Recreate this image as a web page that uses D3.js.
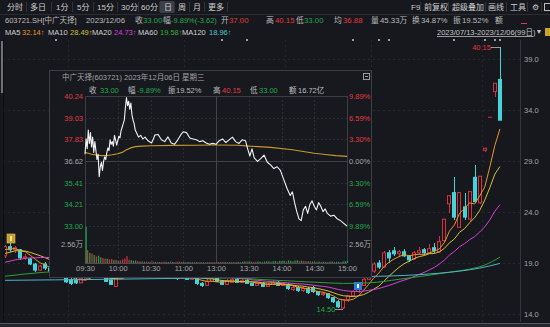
<!DOCTYPE html>
<html><head><meta charset="utf-8">
<script src="https://cdn.jsdelivr.net/npm/d3@7"></script>
<style>
html,body{margin:0;padding:0;background:#16181d;overflow:hidden;}
svg{display:block;}
</style></head><body>
<svg id="c" width="550" height="327"></svg>
<script>
// ---------------- DATA ----------------
// Daily candles 2023/07/13 - 2023/12/06 (99 trading days)
const opens  = [19.7,20.6,20.3,20.3,19.5,19.4,18.9,18.3,18.9,18.5,18.2,17.9,17.5,17.35,17.3,17.05,17.5,17.9,18.3,18.0,
                17.5,17.3,16.7,17.5,18.0,18.4,18.1,18.6,18.2,17.9,18.3,17.9,17.7,18.0,17.7,17.5,17.7,17.4,17.5,17.0,
                16.8,17.2,17.5,17.2,16.9,17.1,17.4,17.1,17.3,17.0,16.8,17.0,16.7,16.9,17.1,16.8,16.9,16.4,16.6,16.3,
                16.5,16.6,16.2,15.9,16.0,15.6,15.2,14.6,15.4,15.8,16.2,16.8,17.4,18.2,19.0,18.6,20.0,20.2,19.9,20.1,
                19.7,19.4,20.0,20.3,20.0,20.5,20.1,21.2,24.8,25.9,22.5,24.5,23.3,27.4,24.9,30.05,33.29,35.8,37.0];
const highs  = [20.8,21.0,20.7,20.4,19.9,19.5,19.0,18.8,19.1,18.9,18.6,18.4,17.9,17.6,17.5,17.7,18.2,18.6,18.5,18.1,
                17.7,17.4,17.6,18.3,18.8,18.6,19.0,18.8,18.3,18.5,18.4,18.0,18.2,18.1,17.8,17.9,17.8,17.8,17.6,17.1,
                17.4,17.7,17.6,17.3,17.4,17.6,17.5,17.5,17.4,17.1,17.1,17.1,17.0,17.3,17.2,17.0,17.0,16.8,16.7,16.6,
                16.6,16.7,16.3,16.2,16.1,15.7,15.4,15.5,15.9,16.4,16.9,17.6,18.5,19.1,19.3,20.2,20.3,20.6,20.3,20.4,
                19.8,20.2,20.6,20.5,20.9,21.0,21.6,23.3,25.7,27.4,26.0,25.9,26.1,28.6,27.51,30.26,33.29,36.62,40.15];
const lows   = [19.5,20.1,20.0,19.3,19.3,18.8,18.1,18.2,18.3,18.0,17.7,17.6,17.0,16.85,16.95,17.0,17.4,17.8,17.8,17.6,
                17.1,16.8,16.6,17.5,17.9,17.9,18.0,18.0,17.7,17.8,17.7,17.55,17.6,17.6,17.3,17.4,17.3,17.3,16.8,16.6,
                16.7,17.1,17.1,16.8,16.8,17.0,17.0,17.0,16.9,16.7,16.7,16.6,16.6,16.8,16.7,16.7,16.4,16.3,16.2,16.2,
                16.0,16.1,15.8,15.8,15.5,15.1,14.6,14.5,15.2,15.7,16.1,16.7,17.3,18.0,18.4,18.5,19.0,19.7,19.6,19.6,
                19.1,19.3,19.9,19.8,19.9,20.0,20.0,21.0,23.9,23.2,22.4,23.2,23.1,24.9,24.8,29.9,33.29,35.3,33.0];
const closes = [20.6,20.3,20.5,19.5,19.6,18.9,18.3,18.7,18.5,18.2,17.9,18.1,17.15,17.0,17.05,17.5,17.9,18.3,18.0,17.7,
                17.2,16.9,17.5,18.0,18.4,18.1,18.6,18.2,17.9,18.3,17.9,17.7,18.0,17.7,17.5,17.7,17.4,17.6,17.0,16.8,
                17.2,17.5,17.2,16.9,17.2,17.4,17.1,17.3,17.0,16.8,17.0,16.7,16.9,17.1,16.8,16.9,16.5,16.6,16.3,16.5,
                16.1,16.2,15.9,16.0,15.6,15.2,14.7,15.4,15.8,16.2,16.8,17.4,18.3,18.9,18.6,20.0,19.5,19.9,20.1,19.7,
                19.3,20.0,20.2,20.0,20.4,20.2,21.1,23.3,25.6,23.5,25.9,23.5,26.0,25.01,27.51,30.26,33.29,36.62,33.0];
// closes of the 19 sessions before the window (for the short moving averages)
const priorCloses = [18.1,18.0,18.2,18.0,17.9,18.1,18.3,18.2,18.5,18.8,19.2,19.0,19.5,19.9,20.2,20.0,20.3,20.6,20.1];
// long moving averages (day index -> value)
const ma60Idx  = [0,8,20,30,40,50,56,62,67,72,78,84,88,92,95,98];
const ma60Val  = [17.7,18.1,18.3,18.2,17.8,17.4,17.25,17.1,17.0,17.05,17.4,17.8,18.1,18.4,18.8,19.58];
const ma120Idx = [0,10,20,35,55,68,80,86,90,94,98];
const ma120Val = [17.3,17.35,17.4,17.5,17.6,17.65,17.8,18.0,18.2,18.5,18.96];
const priceTicks = [14,19,24,29,34,39];
const monthStarts = [13,36,56,73,95];
const eventMarks = [10,43,48,69,74,76,89,95,97,98];

const tabLabels = ['分时','多日','1分','5分','15分','30分','60分','日','周','月','更多'];
const toolLabels = ['F9','前复权','超级叠加','画线','工具'];
const headLabels = ['收','幅','开','高','低','均','量','换','振','额'];
const headValues = ['33.00','-9.89%(-3.62)','37.00','40.15','33.00','36.88','45.33万','34.87%','19.52%',''];
const maNames = ['MA5','MA10','MA20','MA60','MA120'];
const maLast  = ['32.14','28.49','24.73','19.58','18.96'];

// Intraday 2023/12/06 (minutes after 09:30, trading minutes)
const tickMin   = [0,1,2,3,4,5,6,7,8,9,10,11,12,13,14,15,16,17,18,19,20,21,22,23,24,25,26,27,28,29,30,31,32,33,34,35,36,37,38,39,40,41,42,43,44,45,46,48,49,51,53,55,58,61,63,64,67,70,73,76,79,82,85,88,90,93,96,99,102,105,108,111,114,117,120,123,126,129,132,135,138,141,144,147,149,151,153,155,158,161,164,167,170,173,176,179,182,185,188,190,192,194,196,198,200,202,204,206,208,210,212,214,216,218,220,222,225,228,231,234,237,240];
const tickPrice = [37.00,37.85,37.30,38.35,37.60,38.20,37.40,37.95,37.10,37.70,37.20,36.70,37.00,35.75,36.30,36.55,36.10,36.60,36.85,36.70,37.10,37.35,37.20,37.80,37.55,37.70,37.45,38.05,37.80,37.50,37.75,38.00,37.90,38.30,38.50,38.70,38.90,39.60,40.15,39.70,39.95,39.50,39.85,39.20,38.90,38.70,38.35,38.10,37.95,38.05,37.85,37.95,37.73,37.62,37.90,38.07,38.10,37.80,37.70,37.96,37.62,37.55,37.80,38.10,38.25,38.20,37.90,37.85,37.80,37.70,37.75,37.62,37.55,37.60,37.55,37.75,37.85,37.65,37.80,37.95,37.70,37.60,37.80,37.75,37.30,36.90,37.30,36.80,36.60,36.75,36.95,36.55,36.40,36.20,36.30,36.10,35.60,35.10,34.70,34.90,34.30,33.80,33.40,33.30,33.90,34.10,33.70,34.20,34.40,34.10,33.90,34.30,34.10,33.80,33.95,33.70,33.55,33.60,33.40,33.30,33.15,33.00];
const avgMin   = [0,3,6,10,15,20,25,30,34,38,42,46,52,60,80,100,120,140,150,170,190,200,210,220,230,240];
const avgPrice = [37.10,37.05,37.00,36.95,36.92,36.93,36.97,37.02,37.10,37.25,37.35,37.42,37.45,37.47,37.49,37.50,37.51,37.50,37.45,37.38,37.25,37.15,37.05,36.98,36.92,36.88];
// volume per 2 minutes, in 万 shares (+ up / - down)
const vol2Min = [
 -5.0,1.8,-1.4,1.3,-1.1,0.9,-1.0,-0.8,0.7,0.6,
 -0.6,0.5,0.55,-0.4,0.45,-0.3,0.35,0.5,0.6,0.95,
 0.45,-0.4,-0.3,-0.35,0.25,-0.2,0.22,-0.18,0.2,-0.15,
 0.18,0.2,-0.15,0.16,-0.14,0.15,0.18,-0.16,-0.14,0.2,
 -0.15,0.14,0.18,0.2,-0.13,-0.15,0.12,-0.14,0.13,-0.12,
 0.12,-0.13,0.11,-0.12,0.12,0.1,-0.12,0.13,-0.1,0.12,
 0.2,0.15,-0.14,0.16,-0.15,0.12,-0.14,0.13,-0.12,0.14,
 -0.15,0.13,-0.18,-0.22,0.2,-0.2,-0.18,0.16,0.18,-0.2,
 -0.18,0.15,-0.2,-0.24,-0.22,0.18,-0.25,-0.28,0.2,-0.3,
 -0.28,-0.32,0.22,-0.36,-0.3,0.25,-0.34,-0.38,0.28,-0.32,
 0.3,0.24,-0.24,0.22,-0.2,-0.2,0.18,-0.2,0.16,-0.18,
 -0.16,0.15,-0.18,-0.2,0.14,-0.18,-0.16,0.13,-0.22,-0.26,
 -0.3];
const prevClose = 36.62;
const intraTicks = [40.24,39.03,37.83,36.62,35.41,34.21,33.00];
const pctLabels  = ['9.89%','6.59%','3.30%','0.00%','3.30%','6.59%','9.89%'];
const timeMinutes = [0,30,60,90,120,150,180,210,240];
const timeLabels  = ['09:30','10:00','10:30','11:00','13:00','13:30','14:00','14:30','15:00'];
const volMaxWan = 5.12;
const volMidLabel = '2.56万';
const insetTitle = '中广天择(603721) 2023年12月06日 星期三';
const insetLabels = ['收','幅','振','高','低','额'];
const insetValues = ['33.00','-9.89%','19.52%','40.15','33.00','16.72亿'];

// ---------------- DRAW ----------------
const BG='#16181d', RED='#d5323a', CYAN='#46d3d9';
const TR='#e3393f', TG='#22ab4b', TGRAY='#bcbcbc', AX='#a6a6a6';
const FONT='"Liberation Sans","Noto Sans CJK SC",sans-serif';
const FS=7.8;
const svg=d3.select('#c');
svg.append('rect').attr('width',550).attr('height',327).attr('fill',BG);

function T(g,x,y,s,c,size,anchor){
  return g.append('text').attr('x',x).attr('y',y).attr('dy','0.35em')
   .attr('fill',c).attr('font-size',size||FS).attr('font-family',FONT)
   .attr('text-anchor',anchor||'start').text(s);
}
function L(g,x1,y1,x2,y2,c,dash,w){
  const l=g.append('line').attr('x1',x1).attr('y1',y1).attr('x2',x2).attr('y2',y2)
   .attr('stroke',c).attr('stroke-width',w||1).attr('shape-rendering','crispEdges');
  if(dash) l.attr('stroke-dasharray',dash);
  return l;
}

// ---- toolbar row ----
const tb=svg.append('g');
const tabX=[7,30,56,77,97,121,141,164,178,193,208];
const sepX=[26,51,72,93,117,138,159,174,189,204,227];
tb.append('rect').attr('x',160).attr('y',1).attr('width',14).attr('height',12).attr('fill','#3b3f48');
tabLabels.forEach((s,i)=>T(tb,tabX[i],7,s,'#cfcfcf',8));
sepX.forEach(x=>L(tb,x+0.5,2,x+0.5,12,'#30333a'));
const toolX=[411,424,452,488,510];
toolLabels.forEach((s,i)=>T(tb,toolX[i],7,s,'#cfcfcf',8));
[420,448,485,506,527,541].forEach(x=>L(tb,x+0.5,2,x+0.5,12,'#30333a'));
T(tb,535,7,'⚙','#c9c9c9',8,'middle');
tb.append('rect').attr('x',544.5).attr('y',3.5).attr('width',6).attr('height',7).attr('fill','none').attr('stroke','#bbb');
L(tb,0,14.5,550,14.5,'#2a2d34');

// ---- quote row ----
const hy=20.5;
T(tb,5,hy,'603721.SH[中广天择]',TGRAY,7.5);
T(tb,86,hy,'2023/12/06',TGRAY);
const hlX=[135,163,221,266,296,334,371,412,453,495];
const hvX=[143,171,229,275,304,343,380,421,462,504];
const hvC=[TG,TG,TR,TR,TG,TR,TGRAY,TGRAY,TGRAY,TGRAY];
headLabels.forEach((s,i)=>{T(tb,hlX[i],hy,s,TGRAY);T(tb,hvX[i],hy,headValues[i],hvC[i],i===1?7.5:FS);});
L(tb,521,23.5,527,23.5,TR);

// ---- MA legend row ----
const my=32;
const maC=['#e8962c','#d3c23a','#d83fd8','#2fae3a','#56c3d3'];
const mnX=[5,48,92,138,182], mvX=[22,70,114,160,209];
maNames.forEach((s,i)=>{T(tb,mnX[i],my,s,'#d0d0d0',7.5);T(tb,mvX[i],my,maLast[i]+'↑',maC[i],7.5);});
T(tb,437,my,'2023/07/13-2023/12/06(99日)','#c4c4c4',7.5);
L(tb,437,36.5,533,36.5,'#9a9a9a');
T(tb,539,my,'▼','#c4c4c4',7,'middle');
tb.append('rect').attr('x',545).attr('y',28).attr('width',6).attr('height',8).attr('fill','#c9a227');

// ---- main chart ----
const x=d3.scaleBand().domain(d3.range(closes.length)).range([3,502]).paddingInner(0.18);
const cx=i=>x(i)+x.bandwidth()/2;
const y=d3.scaleLinear().domain([14,39]).range([314,59]);
svg.append('clipPath').attr('id','mc').append('rect').attr('x',3).attr('y',40).attr('width',517).attr('height',282);
const mg=svg.append('g').attr('clip-path','url(#mc)');
priceTicks.forEach(v=>L(mg,3,Math.round(y(v))+0.5,520,Math.round(y(v))+0.5,'#272a31','2,3'));
monthStarts.forEach(i=>L(mg,Math.round(x(i))-0.5,40,Math.round(x(i))-0.5,322,'#24272e','2,3'));
L(svg,520.5,40,520.5,322,'#33363d');
L(svg,3.5,40,3.5,322,'#0c0d10');
svg.append('rect').attr('x',1).attr('y',41).attr('width',2).attr('height',52).attr('fill','#6f7278');

// right axis
const ax=svg.append('g').attr('transform','translate(520,0)')
  .call(d3.axisRight(y).tickValues(priceTicks).tickFormat(d3.format('.1f')).tickSize(0).tickPadding(4));
ax.select('.domain').remove();
ax.selectAll('text').attr('fill',AX).attr('font-size',7.5).attr('font-family',FONT);

// candles
const bw=Math.round(x.bandwidth());
const cg=mg.append('g');
closes.forEach((c,i)=>{
  const o=opens[i],h=highs[i],l=lows[i];
  const up=c>=o, col=up?RED:CYAN;
  const xc=Math.round(cx(i))+0.5;
  L(cg,xc,y(h),xc,y(l),col);
  const yt=y(Math.max(o,c)), yb=y(Math.min(o,c));
  const rx=Math.round(x(i))+0.5;
  cg.append('rect').attr('x',rx).attr('y',yt).attr('width',bw-1).attr('height',Math.max(0.01,yb-yt))
    .attr('fill',up?BG:CYAN).attr('stroke',col).attr('stroke-width',1);
});

// moving averages
const allC=priorCloses.concat(closes);
function ma(n){return closes.map((_,i)=>{const k=i+priorCloses.length;return d3.mean(allC.slice(k-n+1,k+1));});}
const line=d3.line().x((d,i)=>cx(i)).y(d=>y(d));
[[ma(5),maC[0]],[ma(10),maC[1]],[ma(20),maC[2]]].forEach(([s,c])=>
  mg.append('path').attr('d',line(s)).attr('fill','none').attr('stroke',c).attr('stroke-width',1));
const sparse=d3.line().curve(d3.curveMonotoneX).x(d=>cx(d[0])).y(d=>y(d[1]));
mg.append('path').attr('d',sparse(ma60Idx.map((d,i)=>[d,ma60Val[i]]))).attr('fill','none').attr('stroke','#2f9f35').attr('stroke-width',1);
mg.append('path').attr('d',sparse(ma120Idx.map((d,i)=>[d,ma120Val[i]]))).attr('fill','none').attr('stroke','#4cb4c4').attr('stroke-width',1);

// event marks
eventMarks.forEach(i=>svg.append('rect').attr('x',Math.round(cx(i))-1).attr('y',39).attr('width',2).attr('height',2).attr('fill','#9a9da3'));

// high / low annotations
const hiI=d3.maxIndex(highs), loI=d3.minIndex(lows);
L(svg,cx(hiI)-9,Math.round(y(highs[hiI]))+0.5,cx(hiI),Math.round(y(highs[hiI]))+0.5,'#9a9a9a');
T(svg,cx(hiI)-9,y(highs[hiI]),d3.format('.2f')(highs[hiI]),TR,7.5,'end');
L(svg,cx(loI)-8,Math.round(y(lows[loI]))+0.5,cx(loI),Math.round(y(lows[loI]))+0.5,'#9a9a9a');
T(svg,cx(loI)-8,y(lows[loI]),d3.format('.2f')(lows[loI]),TG,7.5,'end');

// icons
svg.append('rect').attr('x',7).attr('y',234).attr('width',8).attr('height',9).attr('fill','#c69d26').attr('stroke','#e2c05a').attr('stroke-width',0.6);
svg.append('rect').attr('x',10).attr('y',236).attr('width',2).attr('height',5).attr('fill','#f3e2a8');
svg.append('rect').attr('x',354).attr('y',282).attr('width',8).attr('height',8).attr('fill','#2a7dcc');
svg.append('rect').attr('x',357).attr('y',284).attr('width',2).attr('height',4).attr('fill','#e8f2ff');

// bottom strip
svg.append('rect').attr('x',0).attr('y',323).attr('width',550).attr('height',4).attr('fill','#24272d');
L(svg,0,323.5,550,323.5,'#55585f');

// ---- inset intraday chart ----
const ig=svg.append('g');
ig.append('rect').attr('x',49.5).attr('y',70.5).attr('width',322).attr('height',207).attr('fill','#17191f').attr('stroke','#3b3e46');
T(ig,62,77,insetTitle,'#a3a3a3',7.5);
ig.append('rect').attr('x',363.5).attr('y',73.5).attr('width',6).attr('height',6).attr('fill','none').attr('stroke','#9a9a9a');
L(ig,365,76.5,368,76.5,'#9a9a9a');
const ilX=[89,128,168,213,250,289], ivX=[100,137,176,222,259,298];
const ivC=[TG,TG,TGRAY,TR,TG,TGRAY];
insetLabels.forEach((s,i)=>{T(ig,ilX[i],90,s,TGRAY,7.5);T(ig,ivX[i],90,insetValues[i],ivC[i],7.5);});

const ix=d3.scaleLinear().domain([0,240]).range([85,347]);
const iy=d3.scaleLinear().domain([33.00,40.24]).range([226,96]);
const vy=d3.scaleLinear().domain([0,volMaxWan]).range([263,226]);
intraTicks.forEach(v=>{
  const yy=Math.round(iy(v))+0.5;
  if(v===prevClose) L(ig,85,yy,347,yy,'#3d4048');
  else L(ig,85,yy,347,yy,'#2a2d34','2,2');
});
L(ig,85,Math.round(vy(volMaxWan/2))+0.5,347,Math.round(vy(volMaxWan/2))+0.5,'#2a2d34','2,2');
timeMinutes.slice(1,-1).forEach(m=>{
  const xx=Math.round(ix(m))+0.5;
  if(m===120) L(ig,xx,96,xx,263,'#41444c');
  else L(ig,xx,96,xx,263,'#2a2d34','2,2');
});
L(ig,85.5,96,85.5,263,'#3b3e46');L(ig,347.5,96,347.5,263,'#3b3e46');
L(ig,85,96.5,347,96.5,'#3b3e46');L(ig,85,263.5,347,263.5,'#4a4d55');

const la=ig.append('g').attr('transform','translate(84,0)')
  .call(d3.axisLeft(iy).tickValues(intraTicks).tickFormat(d3.format('.2f')).tickSize(0).tickPadding(1));
la.select('.domain').remove();
la.selectAll('text').attr('font-size',7.5).attr('font-family',FONT)
  .attr('fill',d=>d>prevClose?TR:(d<prevClose?TG:AX));
T(ig,83,vy(volMaxWan/2),volMidLabel,AX,7.5,'end');
const ra=ig.append('g').attr('transform','translate(348,0)')
  .call(d3.axisRight(iy).tickValues(intraTicks).tickFormat((d,i)=>pctLabels[i]).tickSize(0).tickPadding(1));
ra.select('.domain').remove();
ra.selectAll('text').attr('font-size',7.5).attr('font-family',FONT)
  .attr('fill',d=>d>prevClose?TR:(d<prevClose?TG:AX));
T(ig,349,vy(volMaxWan/2),volMidLabel,AX,7.5,'start');
const ta=ig.append('g').attr('transform','translate(0,263)')
  .call(d3.axisBottom(ix).tickValues(timeMinutes).tickFormat((d,i)=>timeLabels[i]).tickSize(0).tickPadding(3));
ta.select('.domain').remove();
ta.selectAll('text').attr('font-size',7.5).attr('font-family',FONT).attr('fill',AX);

vol2Min.forEach((v,i)=>{
  const m=i*2, xx=ix(m)+(i===0?0.5:-0.2);
  ig.append('rect').attr('x',xx).attr('y',vy(Math.abs(v))).attr('width',1.3)
    .attr('height',263-vy(Math.abs(v))).attr('fill',v>=0?'#c8323a':'#1e9e45');
});
ig.append('path').attr('d',d3.line().x((d,i)=>ix(avgMin[i])).y(d=>iy(d))(avgPrice))
  .attr('fill','none').attr('stroke','#c79a26').attr('stroke-width',1.1);
ig.append('path').attr('d',d3.line().x((d,i)=>ix(tickMin[i])).y(d=>iy(d))(tickPrice))
  .attr('fill','none').attr('stroke','#f2f2f2').attr('stroke-width',1.1).attr('stroke-linejoin','round');
</script>
</body></html>
